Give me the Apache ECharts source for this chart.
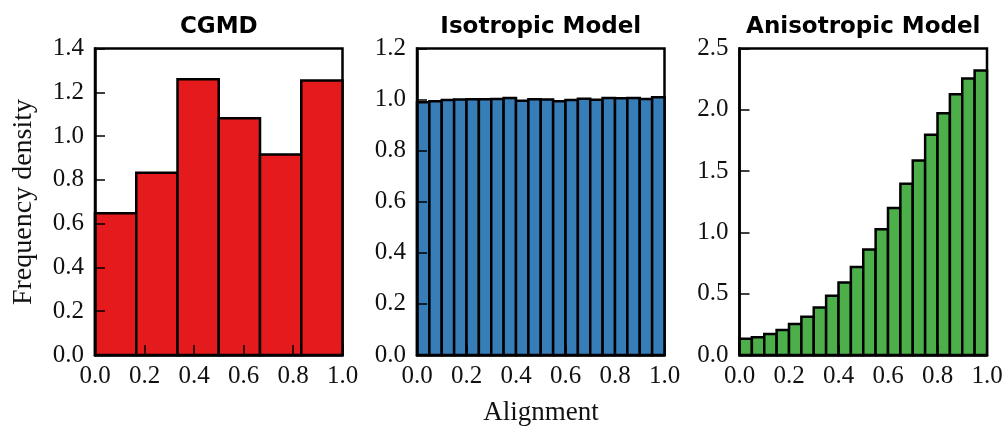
<!DOCTYPE html>
<html>
<head>
<meta charset="utf-8">
<title>Alignment histograms</title>
<script src="https://cdn.jsdelivr.net/npm/echarts@6/dist/echarts.min.js"></script>
<style>
  html, body { margin: 0; padding: 0; background: #fff; }
  #chart { width: 1006px; height: 426px; }
</style>
</head>
<body>
<div id="chart"></div>
<script>
// Panel titles
const panelTitles = ['CGMD', 'Isotropic Model', 'Anisotropic Model'];

// Frequency density per bin (bins span 0..1 evenly)
const cgmdDensity = [0.648, 0.832, 1.260, 1.081, 0.916, 1.254];
const isotropicDensity = [0.990, 0.993, 0.998, 1.000, 1.001, 1.001, 1.002, 1.006, 0.995, 1.001,
                          1.000, 0.993, 0.998, 1.003, 0.999, 1.006, 1.005, 1.006, 1.002, 1.009];
const anisotropicDensity = [0.133, 0.144, 0.171, 0.204, 0.253, 0.312, 0.388, 0.484, 0.592, 0.718,
                            0.861, 1.025, 1.199, 1.397, 1.587, 1.797, 1.971, 2.126, 2.256, 2.321];

// Y-axis ranges and tick steps per panel
const yMax = [1.4, 1.2, 2.5];
const yStep = [0.2, 0.2, 0.5];

// X-axis ticks
const xMin = 0, xMax = 1, xStep = 0.2;

const barColors = ['#e41a1c', '#377eb8', '#4daf4a'];
const allDensity = [cgmdDensity, isotropicDensity, anisotropicDensity];

const serif = '"Liberation Serif", "DejaVu Serif", serif';
const sans = '"DejaVu Sans", sans-serif';

// Plot-area geometry
const gridLeft = [95, 417, 739.5];
const gridWidth = 247.5;
const gridTop = 48.5;
const gridHeight = 306.5;

// Turn a density list into [binStart, binEnd, density] rows
function toBins(values) {
  const n = values.length;
  return values.map((v, i) => [i / n, (i + 1) / n, v]);
}

function makeRenderer(color) {
  return function (params, api) {
    const p0 = api.coord([api.value(0), api.value(2)]);
    const p1 = api.coord([api.value(1), 0]);
    return {
      type: 'rect',
      shape: { x: p0[0], y: p0[1], width: p1[0] - p0[0], height: p1[1] - p0[1] },
      style: { fill: color, stroke: '#000', lineWidth: 2.5 }
    };
  };
}

const grids = [], xAxes = [], yAxes = [], series = [], graphics = [];

for (let k = 0; k < 3; k++) {
  grids.push({
    left: gridLeft[k], top: gridTop, width: gridWidth, height: gridHeight,
    show: true, borderColor: '#000', borderWidth: 2.5, backgroundColor: 'transparent'
  });
  xAxes.push({
    gridIndex: k, type: 'value', min: xMin, max: xMax, interval: xStep, z: 10,
    axisLine: { show: true, onZero: false, lineStyle: { color: '#000', width: 2.5 } },
    axisTick: { show: true, inside: true, length: 10, lineStyle: { color: '#000', width: 1.5 } },
    axisLabel: {
      color: '#111', fontFamily: serif, fontSize: 25, margin: 9,
      formatter: v => v.toFixed(1), showMinLabel: true, showMaxLabel: true
    },
    splitLine: { show: false }
  });
  yAxes.push({
    gridIndex: k, type: 'value', min: 0, max: yMax[k], interval: yStep[k], z: 10,
    axisLine: { show: true, onZero: false, lineStyle: { color: '#000', width: 2.5 } },
    axisTick: { show: true, inside: true, length: 10, lineStyle: { color: '#000', width: 1.5 } },
    axisLabel: {
      color: '#111', fontFamily: serif, fontSize: 25, margin: 11,
      formatter: v => v.toFixed(1), showMinLabel: true, showMaxLabel: true
    },
    splitLine: { show: false }
  });
  series.push({
    type: 'custom', xAxisIndex: k, yAxisIndex: k,
    renderItem: makeRenderer(barColors[k]),
    encode: { x: [0, 1], y: 2 },
    data: toBins(allDensity[k]),
    silent: true, animation: false
  });
  graphics.push({
    type: 'text', x: gridLeft[k] + gridWidth / 2, y: 27,
    style: {
      text: panelTitles[k], fill: '#000', font: 'bold 23px ' + sans,
      textAlign: 'center', textVerticalAlign: 'middle'
    }
  });
}

graphics.push({
  type: 'text', x: 541, y: 413,
  style: {
    text: 'Alignment', fill: '#111', font: '27px ' + serif,
    textAlign: 'center', textVerticalAlign: 'middle'
  }
});
graphics.push({
  type: 'text', x: 24, y: 202, rotation: Math.PI / 2,
  style: {
    text: 'Frequency density', fill: '#111', font: '28px ' + serif,
    textAlign: 'center', textVerticalAlign: 'middle'
  }
});

const chart = echarts.init(document.getElementById('chart'), null, { renderer: 'canvas' });
chart.setOption({
  animation: false,
  backgroundColor: '#fff',
  grid: grids,
  xAxis: xAxes,
  yAxis: yAxes,
  series: series,
  graphic: { elements: graphics }
});
</script>
</body>
</html>
